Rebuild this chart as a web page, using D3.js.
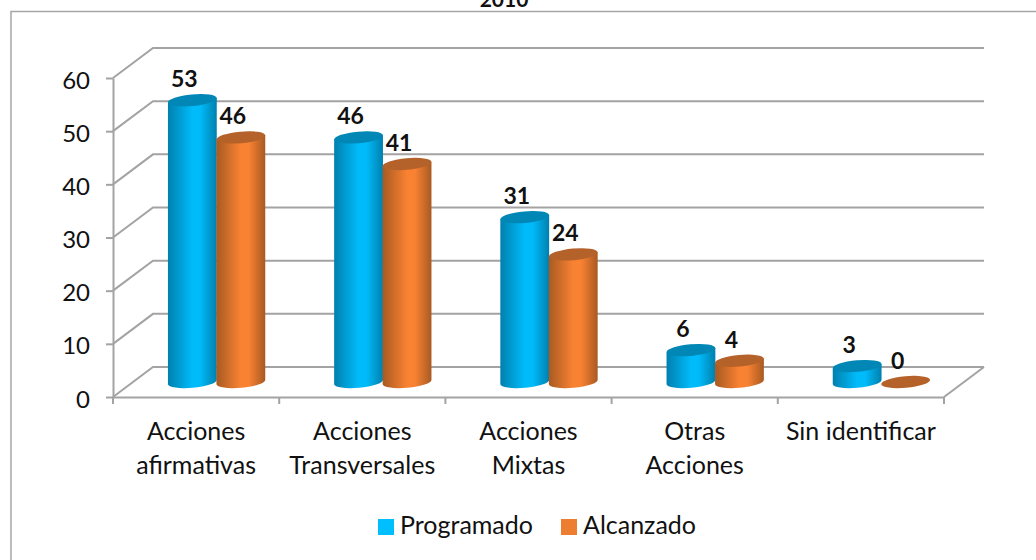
<!DOCTYPE html>
<html>
<head>
<meta charset="utf-8">
<script src="https://cdn.jsdelivr.net/npm/d3@7"></script>
<style>
  html, body { margin: 0; padding: 0; background: #fff; }
  svg { display: block; }
  text { font-family: Lato, "Open Sans", sans-serif; fill: #111; }
</style>
</head>
<body>
<svg id="chart" width="1036" height="560"></svg>
<script>
const categories = [['Acciones', 'afirmativas'], ['Acciones', 'Transversales'], ['Acciones', 'Mixtas'], ['Otras', 'Acciones'], ['Sin identificar']];
const programado = [53, 46, 31, 6, 3];
const alcanzado = [46, 41, 24, 4, 0];
const yTicks = [0, 10, 20, 30, 40, 50, 60];
const seriesNames = ['Programado', 'Alcanzado'];
const seriesKeys = ['blue', 'orange'];

const svg = d3.select('#chart');
const defs = svg.append('defs');

const plot = { left: 113, right: 944, top: 78, bottom: 397 };
const depth = { x: 40, y: -30 };

const x = d3.scaleBand().domain(d3.range(categories.length)).range([plot.left, plot.right]);
const xInner = d3.scaleBand().domain([0, 1]).range([0, 97]);
const y = d3.scaleLinear().domain([0, 60]).range([plot.bottom, plot.top]);

// horizontal shading for the cylinders
const shades = {
  blue: { edge: '#0080ae', mid: '#00bbfa', top: '#0087b5', swatch: '#00bfff' },
  orange: { edge: '#a85a22', mid: '#f98232', top: '#b5622a', swatch: '#ed7d31' }
};
seriesKeys.forEach(k => {
  const g = defs.append('linearGradient').attr('id', `grad-${k}`);
  [[0, shades[k].edge], [0.5, shades[k].mid], [0.66, shades[k].mid], [1, shades[k].edge]].forEach(s => {
    g.append('stop').attr('offset', s[0]).attr('stop-color', s[1]);
  });
});

// frame, only the top and left sides fall inside the picture
svg.append('rect')
  .attr('x', 11).attr('y', 11.5).attr('width', 1100).attr('height', 700)
  .attr('fill', '#fff').attr('stroke', '#a6a6a6').attr('stroke-width', 1.5);

// title, cut by the top of the picture as in the source
svg.append('text').attr('x', 504).attr('y', 7)
  .attr('text-anchor', 'middle').attr('font-size', 21).attr('font-weight', 700).text('2010');

// walls and gridlines
const grid = svg.append('g').attr('fill', 'none').attr('stroke', '#a3a3a3').attr('stroke-width', 2);
yTicks.forEach(t => {
  grid.append('path').attr('d', d3.line()([
    [plot.left, y(t)],
    [plot.left + depth.x, y(t) + depth.y],
    [plot.right + depth.x, y(t) + depth.y]
  ]));
});
grid.append('path').attr('d', d3.line()([
  [plot.right, plot.bottom],
  [plot.right + depth.x, plot.bottom + depth.y]
]));

// axes
const yAxis = svg.append('g').attr('transform', `translate(${plot.left},0)`)
  .call(d3.axisLeft(y).tickValues(yTicks).tickSize(7).tickSizeOuter(0).tickPadding(16));
const xAxis = svg.append('g').attr('transform', `translate(0,${plot.bottom})`)
  .call(d3.axisBottom(x).tickValues([]).tickSize(0));
x.domain().concat([categories.length]).forEach(i => {
  const px = i < categories.length ? x(i) : plot.right;
  xAxis.append('line').attr('x1', px).attr('x2', px).attr('y1', 0).attr('y2', 7);
});
[yAxis, xAxis].forEach(a => {
  a.selectAll('path.domain, line').attr('stroke', '#a3a3a3').attr('stroke-width', 2);
});
yAxis.selectAll('text').attr('font-size', 24).attr('dy', '0.42em')
  .style('font-family', 'Lato, sans-serif').style('fill', '#111');

// category labels
const catLabels = svg.append('g').attr('text-anchor', 'middle').attr('font-size', 25);
categories.forEach((lines, i) => {
  lines.forEach((line, j) => {
    catLabels.append('text')
      .attr('x', x(i) + x.bandwidth() / 2)
      .attr('y', 440 + j * 34)
      .text(line);
  });
});

// cylinders
const rx = 24.5, ry = 5.8, tilt = -5;
const baseY = v => y(v) + depth.y / 2;
const marks = svg.append('g');
[programado, alcanzado].forEach((values, s) => {
  const key = seriesKeys[s];
  values.forEach((v, i) => {
    const cx = x(i) + x.bandwidth() / 2 + depth.x / 2 + xInner(s) + xInner.bandwidth() / 2 - 48;
    const yTop = baseY(v), yBot = baseY(0);
    const g = marks.append('g');
    if (v > 0) {
      const dx = rx * Math.cos(tilt * Math.PI / 180), dy = rx * Math.sin(tilt * Math.PI / 180);
      g.append('path')
        .attr('d', `M${cx - dx},${yTop - dy} L${cx - dx},${yBot - dy} ` +
          `A${rx},${ry} ${tilt} 0 0 ${cx + dx},${yBot + dy} L${cx + dx},${yTop + dy} Z`)
        .attr('fill', `url(#grad-${key})`);
    }
    g.append('ellipse')
      .attr('cx', cx).attr('cy', yTop)
      .attr('rx', rx).attr('ry', ry)
      .attr('transform', `rotate(${tilt} ${cx} ${yTop})`)
      .attr('fill', shades[key].top);
    g.append('text')
      .attr('x', cx - 8).attr('y', yTop - 13)
      .attr('text-anchor', 'middle')
      .attr('font-size', 23).attr('font-weight', 700)
      .text(v);
  });
});

// legend
const legendX = [378, 561];
const legend = svg.append('g');
seriesNames.forEach((name, i) => {
  legend.append('rect').attr('x', legendX[i]).attr('y', 519)
    .attr('width', 16).attr('height', 16).attr('fill', shades[seriesKeys[i]].swatch);
  legend.append('text').attr('x', legendX[i] + 22).attr('y', 534)
    .attr('font-size', 25).text(name);
});
</script>
</body>
</html>
